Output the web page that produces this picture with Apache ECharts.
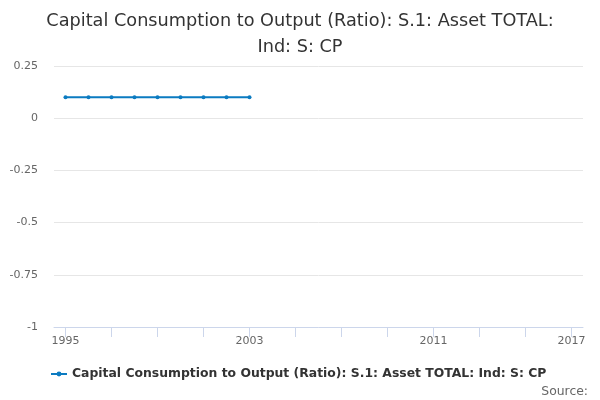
<!DOCTYPE html>
<html><head><meta charset="utf-8">
<script src="https://cdn.jsdelivr.net/npm/echarts@6/dist/echarts.min.js"></script>
<style>html,body{margin:0;padding:0;background:#fff}#c{width:600px;height:400px}</style>
</head><body><div id="c"></div>
<script>
var years = ['1995','1996','1997','1998','1999','2000','2001','2002','2003','2004','2005','2006','2007','2008','2009','2010','2011','2012','2013','2014','2015','2016','2017'];
var seriesName = 'Capital Consumption to Output (Ratio): S.1: Asset TOTAL: Ind: S: CP';
var values = [0.1, 0.1, 0.1, 0.1, 0.1, 0.1, 0.1, 0.1, 0.1, null, null, null, null, null, null, null, null, null, null, null, null, null, null];
var chart = echarts.init(document.getElementById('c'));
chart.setOption({
  animation: false,
  title: [{
    text: 'Capital Consumption to Output (Ratio): S.1: Asset TOTAL:\nInd: S: CP',
    left: 'center', top: 3,
    textStyle: {fontFamily: 'DejaVu Sans', fontSize: 17.7, fontWeight: 'normal', color: '#333', lineHeight: 26}
  }, {
    text: 'Source:', right: 7, top: 381,
    textStyle: {fontFamily: 'DejaVu Sans', fontSize: 12.4, fontWeight: 'normal', color: '#666'}
  }],
  legend: {
    left: 45, top: 363, itemWidth: 16, itemHeight: 6, itemGap: 5,
    textStyle: {fontFamily: 'DejaVu Sans', fontSize: 12.4, fontWeight: 'bold', color: '#333'},
    data: [seriesName]
  },
  grid: {left: 54, right: 17, top: 66, bottom: 73},
  xAxis: {
    type: 'category', data: years, boundaryGap: true,
    axisLine: {show: true, onZero: false, lineStyle: {color: '#ccd6eb'}},
    axisTick: {show: true, alignWithLabel: true, interval: 1, length: 10, lineStyle: {color: '#ccd6eb'}},
    axisLabel: {
      interval: function (i) { return i % 8 === 0 || i === years.length - 1; },
      color: '#666', fontFamily: 'DejaVu Sans', fontSize: 11, margin: 9
    }
  },
  yAxis: {
    type: 'value', min: -1, max: 0.25, interval: 0.25,
    axisLine: {show: false}, axisTick: {show: false},
    splitLine: {lineStyle: {color: '#e6e6e6'}},
    axisLabel: {color: '#666', fontFamily: 'DejaVu Sans', fontSize: 11, margin: 16}
  },
  series: [{
    name: seriesName, type: 'line', data: values,
    symbol: 'circle', symbolSize: 4, showAllSymbol: true,
    lineStyle: {color: '#0b7bc1', width: 2},
    itemStyle: {color: '#0b7bc1'}
  }]
});
</script></body></html>
